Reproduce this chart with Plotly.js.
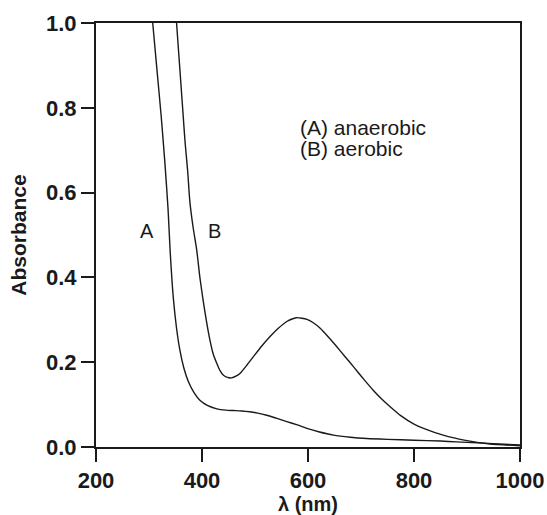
<!DOCTYPE html>
<html>
<head>
<meta charset="utf-8">
<script src="https://cdn.plot.ly/plotly-3.0.1.min.js"></script>
<style>html,body{margin:0;padding:0;background:#fff;}#chart{width:547px;height:515px;}</style>
</head>
<body>
<div id="chart"></div>
<script>
// Curve A (anaerobic)
const wavelengthA = [307, 315, 323, 330, 336, 340, 346, 352, 358, 366, 374, 385, 396, 410, 428, 445, 460, 475, 490, 505, 522, 540, 560, 580, 598, 620, 648, 680, 711, 750, 800, 850, 880, 920, 960, 1000];
const absorbanceA = [1.0, 0.89, 0.78, 0.67, 0.56, 0.46, 0.35, 0.28, 0.23, 0.185, 0.155, 0.128, 0.110, 0.098, 0.090, 0.087, 0.086, 0.085, 0.083, 0.080, 0.075, 0.068, 0.060, 0.052, 0.044, 0.036, 0.028, 0.023, 0.020, 0.018, 0.016, 0.014, 0.012, 0.010, 0.007, 0.005];
// Curve B (aerobic)
const wavelengthB = [352, 356, 360, 364, 368, 373, 377, 383, 390, 396, 402, 408, 415, 421, 428, 434, 440, 448, 456, 464, 472, 484, 497, 512, 528, 544, 560, 578, 598, 610, 623, 638, 654, 670, 686, 705, 723, 740, 755, 775, 800, 818, 855, 900, 943, 1000];
const absorbanceB = [1.0, 0.93, 0.86, 0.79, 0.72, 0.65, 0.58, 0.52, 0.465, 0.40, 0.347, 0.30, 0.252, 0.22, 0.197, 0.18, 0.17, 0.164, 0.163, 0.167, 0.174, 0.192, 0.213, 0.237, 0.260, 0.280, 0.296, 0.305, 0.301, 0.293, 0.280, 0.260, 0.237, 0.213, 0.189, 0.160, 0.134, 0.112, 0.095, 0.074, 0.054, 0.044, 0.028, 0.015, 0.007, 0.003];

const xTicks = [200, 400, 600, 800, 1000];
const yTicks = [0.0, 0.2, 0.4, 0.6, 0.8, 1.0];
const yTickText = ['0.0', '0.2', '0.4', '0.6', '0.8', '1.0'];

const curveLabels = [
  {text: 'A', x: 296, y: 0.51},
  {text: 'B', x: 423, y: 0.51}
];
const legendText = ['(A) anaerobic', '(B) aerobic'];
const legendY = [0.754, 0.704];

const lineStyle = {color: '#1a1a1a', width: 1.4, shape: 'spline', smoothing: 0.6};

const traces = [
  {x: wavelengthA, y: absorbanceA, mode: 'lines', line: lineStyle, hoverinfo: 'skip'},
  {x: wavelengthB, y: absorbanceB, mode: 'lines', line: lineStyle, hoverinfo: 'skip'}
];

const font = 'Liberation Sans, Arial, Helvetica, sans-serif';

const annotations = curveLabels.map(l => ({
  x: l.x, y: l.y, xref: 'x', yref: 'y', text: l.text, showarrow: false,
  font: {family: font, size: 20, color: '#1a1a1a'}
}));
legendText.forEach((t, i) => annotations.push({
  x: 581, y: legendY[i], xref: 'x', yref: 'y', xanchor: 'left', yanchor: 'middle', align: 'left',
  text: t, showarrow: false,
  font: {family: font, size: 21, color: '#1a1a1a'}
}));

const layout = {
  width: 547, height: 515,
  margin: {l: 96, r: 27, t: 23, b: 68},
  paper_bgcolor: '#fff', plot_bgcolor: '#fff',
  showlegend: false,
  xaxis: {
    range: [200, 1000], tickvals: xTicks, ticks: 'outside', ticklen: 13, tickwidth: 2, tickcolor: '#1a1a1a',
    showline: true, linewidth: 2, linecolor: '#1a1a1a', mirror: true, showgrid: false, zeroline: false,
    tickfont: {family: font, size: 22, color: '#1a1a1a', weight: 'bold'},
    title: {text: '<b>λ (nm)</b>', font: {family: font, size: 20, color: '#1a1a1a'}, standoff: 6}
  },
  yaxis: {
    range: [0, 1.0], tickvals: yTicks, ticktext: yTickText, ticks: 'outside', ticklen: 13, tickwidth: 2, tickcolor: '#1a1a1a',
    showline: true, linewidth: 2, linecolor: '#1a1a1a', mirror: true, showgrid: false, zeroline: false,
    tickfont: {family: font, size: 22, color: '#1a1a1a', weight: 'bold'},
    title: {text: '<b>Absorbance</b>', font: {family: font, size: 21, color: '#1a1a1a'}, standoff: 14}
  },
  annotations: annotations
};

Plotly.newPlot('chart', traces, layout, {staticPlot: true, displayModeBar: false});
</script>
</body>
</html>
